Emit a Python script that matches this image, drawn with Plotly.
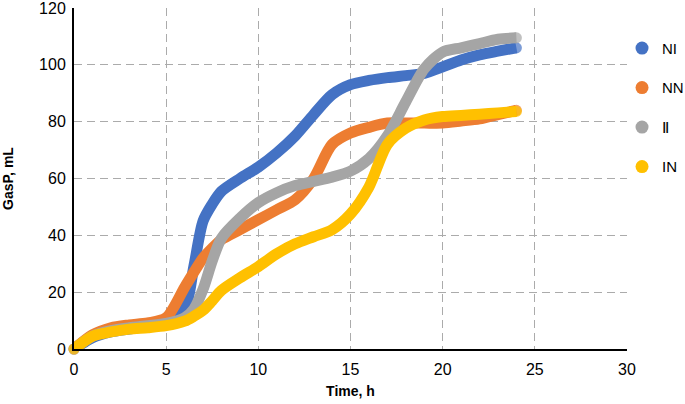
import plotly.graph_objects as go

time_h = [0, 1, 2, 3, 4, 5, 6, 6.5, 7, 7.5, 8, 9, 10, 11, 12, 13, 14, 15, 16, 17, 18, 19, 20, 21, 22, 23, 24]

ni = [0, 4, 6, 7, 8, 9, 14, 29, 45, 51, 55.5, 60, 64, 69, 75, 82.5, 89.5, 93, 94.5, 95.5, 96.2, 97, 99.3, 101.7, 103.5, 104.8, 106]
nn = [0, 5, 7.5, 8.5, 9.2, 11, 21.7, 27, 32, 35.5, 38.5, 42, 45.5, 49, 52.5, 60, 72, 76, 78, 79.5, 79.5, 79.5, 79.5, 80.2, 81, 82.5, 84]
ii = [0, 4.5, 6.5, 7.5, 8.2, 9, 11, 14, 21, 31, 39, 46, 51.5, 55, 57.5, 59, 60.5, 62.6, 67, 75, 87, 98.6, 104.5, 106, 107.5, 109, 109.5]
in_ = [0, 4.5, 6, 7, 7.5, 8.2, 9.8, 11.5, 13.6, 17, 20.6, 25, 29, 33.5, 37, 39.5, 42, 47.5, 57, 72, 77.7, 80.6, 81.8, 82.2, 82.6, 83.1, 83.6]

names = ["NI", "NN", "Ⅱ", "IN"]
series = [ni, nn, ii, in_]
colors = ["#4472C4", "#ED7D31", "#A5A5A5", "#FFC000"]

x_ticks = [0, 5, 10, 15, 20, 25, 30]
y_ticks = [0, 20, 40, 60, 80, 100, 120]

fig = go.Figure()
n = len(time_h)
for name, vals, col in zip(names, series, colors):
    sizes = [11] + [0] * (n - 2) + [11]
    fig.add_trace(go.Scatter(
        x=time_h, y=vals, mode="lines+markers", name=name,
        line=dict(color=col, width=11, shape="spline", smoothing=0.8),
        marker=dict(color=col, size=sizes, line=dict(width=0)),
        showlegend=False, hoverinfo="skip", cliponaxis=False,
    ))
for i, (name, col) in enumerate(zip(names, colors)):
    fig.add_trace(go.Scatter(
        x=[None], y=[None], mode="markers", name=name,
        marker=dict(color=col, size=13, symbol="circle"),
        legendgroup="g%d" % i, showlegend=True,
    ))

grid = dict(showgrid=True, gridcolor="#ababab", gridwidth=1.3, griddash="8px,5px")

fig.update_layout(
    width=685, height=404,
    margin=dict(l=74, r=58, t=8, b=55, autoexpand=False),
    paper_bgcolor="white", plot_bgcolor="white",
    font=dict(family="Liberation Sans, Arial, sans-serif", size=16, color="black"),
    legend=dict(x=0.991, y=0.93, xanchor="left", yanchor="top",
                tracegroupgap=17, font=dict(size=15), itemwidth=30,
                bgcolor="rgba(0,0,0,0)"),
    xaxis=dict(range=[0, 30], tickvals=x_ticks, showline=True, linecolor="black", linewidth=2,
               ticks="outside", ticklen=5, tickcolor="rgba(0,0,0,0)", zeroline=False,
               automargin=False, ticklabeloverflow="allow",
               title=dict(text="<b>Time, h</b>", font=dict(size=14), standoff=9), **grid),
    yaxis=dict(range=[0, 120], tickvals=y_ticks, showline=True, linecolor="black", linewidth=2,
               ticks="outside", ticklen=3, tickcolor="rgba(0,0,0,0)", zeroline=False,
               automargin=False, ticklabeloverflow="allow",
               title=dict(text="<b>GasP, mL</b>", font=dict(size=14), standoff=22), **grid),
)

fig.write_html("out.html", config={"displayModeBar": False},
               post_script="document.body.style.margin='0';")
